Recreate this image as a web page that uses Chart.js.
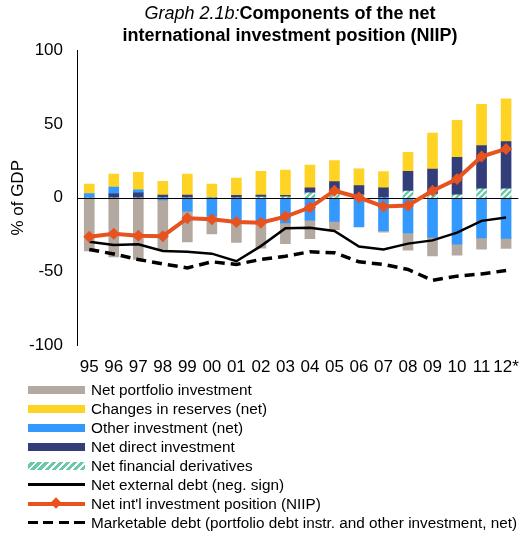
<!DOCTYPE html>
<html>
<head>
<meta charset="utf-8">
<script src="https://cdn.jsdelivr.net/npm/chart.js@4.4.0/dist/chart.umd.min.js"></script>
<style>
body { margin: 0; background: #fff; font-family: "Liberation Sans", Arial, sans-serif; }
#wrap { position: relative; width: 531px; height: 536px; overflow: hidden; }
#title { position: absolute; left: 50px; width: 480px; top: 2px; text-align: center; font-size: 18px; line-height: 22px; font-weight: bold; color: #000; }
#title i { font-weight: normal; }
#chart { position: absolute; left: 0; top: 0; }
#legend { position: absolute; left: 28px; top: 380px; font-size: 15.3px; color: #000; }
.row { height: 19px; display: flex; align-items: center; white-space: nowrap; }
.sw { width: 57px; height: 19px; position: relative; margin-right: 6px; flex: none; }
.sw .bar { position: absolute; left: 0; right: 0; top: 6px; height: 8px; }
.sw .ln { position: absolute; left: 0; right: 0; top: 8px; height: 3px; background: #000; }
.sw .dash { position: absolute; left: 0; right: 0; top: 8px; height: 3px; background: repeating-linear-gradient(90deg, #000 0 10px, transparent 10px 15.5px); }
.sw .niip { position: absolute; left: 0; right: 0; top: 8px; height: 4px; background: #e8521e; }
.sw .dia { position: absolute; left: 24px; top: 5px; width: 8px; height: 8px; background: #e8521e; transform: rotate(45deg); }
</style>
</head>
<body>
<div id="wrap">
  <canvas id="chart" width="531" height="394"></canvas>
  <div id="title"><i>Graph 2.1b:</i>Components of the net<br>international investment position (NIIP)</div>
  <div id="legend">
    <div class="row"><div class="sw"><div class="bar" style="background:#b3a9a0"></div></div>Net portfolio investment</div>
    <div class="row"><div class="sw"><div class="bar" style="background:#ffd324"></div></div>Changes in reserves (net)</div>
    <div class="row"><div class="sw"><div class="bar" style="background:#3399ff"></div></div>Other investment (net)</div>
    <div class="row"><div class="sw"><div class="bar" style="background:#333d7a"></div></div>Net direct investment</div>
    <div class="row"><div class="sw"><div class="bar" style="background:repeating-linear-gradient(135deg, #fff 0 2px, #6cc9a8 2px 5px)"></div></div>Net financial derivatives</div>
    <div class="row"><div class="sw"><div class="ln"></div></div>Net external debt (neg. sign)</div>
    <div class="row"><div class="sw"><div class="niip"></div><div class="dia"></div></div>Net int'l investment position (NIIP)</div>
    <div class="row"><div class="sw"><div class="dash"></div></div>Marketable debt (portfolio debt instr. and other investment, net)</div>
  </div>
</div>
<script>
// categories and series (% of GDP)
const years = ["95", "96", "97", "98", "99", "00", "01", "02", "03", "04", "05", "06", "07", "08", "09", "10", "11", "12*"];
const portfolio = [-36, -40, -41.7, -34, -20.9, -12, -14.3, -17, -14, -12.5, -5.7, 0, -1.1, -11.6, -12.5, -7.5, -7.5, -6.8];
const reserves = [6.4, 8.9, 11.8, 9.3, 14.3, 9.3, 11.8, 16, 17.1, 15.4, 14.1, 11.3, 10.9, 12.9, 24.3, 25, 27.9, 29];
const otherInv = [2.9, 4.5, 2, -1.5, -9, -12.5, -15.9, -17, -17, -15.2, -15.9, -19.7, -22.2, -23.8, -26.8, -31.3, -27.2, -27.4];
const directInv = [0, 2.7, 3.4, 1.8, 1.8, 0, 1.6, 1.4, 1, 3.4, 6, 6.2, 6.8, 13.4, 17, 25.4, 29.4, 32];
const derivatives = [0, 0, 0, 0, 0, 0, 0, 0.5, 0.7, 3.4, 5, 2, 0, 4.5, 2.5, 2, 6, 6];
const extDebt = [-29.7, -32, -31.5, -36, -36.5, -37.8, -42.9, -32.7, -20.6, -20.2, -22.4, -33, -35, -31, -28.8, -23.6, -15.6, -13.4];
const niip = [-26.3, -24.3, -25.6, -26, -13.8, -14.5, -16.3, -16.8, -12.7, -6.6, 4.8, 0.2, -5.9, -5.2, 4.8, 12.7, 27.9, 33.1];
const marketable = [-35, -38, -41.7, -44.7, -47.4, -43.3, -45.1, -41.7, -39.5, -36.5, -37.2, -43.3, -45.1, -48.5, -55.8, -53, -51.5, -49.2];
const yTicks = [-100, -50, 0, 50, 100];

function stripes() {
    const c = document.createElement("canvas");
    c.width = 6; c.height = 6;
    const g = c.getContext("2d");
    g.fillStyle = "#fff";
    g.fillRect(0, 0, 6, 6);
    g.strokeStyle = "#6cc9a8";
    g.lineWidth = 2.5;
    g.beginPath();
    g.moveTo(0, 6); g.lineTo(6, 0);
    g.moveTo(-3, 3); g.lineTo(3, -3);
    g.moveTo(3, 9); g.lineTo(9, 3);
    g.stroke();
    return g.createPattern(c, "repeat");
}

// zero line goes over the bars but under the lines
const zeroLine = {
    id: "zeroLine",
    beforeDatasetsDraw(chart) { chart.$zeroDone = false; },
    beforeDatasetDraw(chart, args) {
        if (chart.$zeroDone || args.meta.type !== "line") return;
        const ctx = chart.ctx;
        const y = Math.round(chart.scales.y.getPixelForValue(0)) + 0.5;
        ctx.save();
        ctx.strokeStyle = "#000";
        ctx.lineWidth = 1;
        ctx.beginPath();
        ctx.moveTo(chart.chartArea.left, y);
        ctx.lineTo(chart.chartArea.right, y);
        ctx.stroke();
        ctx.restore();
        chart.$zeroDone = true;
    }
};

function bar(label, data, color) {
    return { type: "bar", label: label, data: data, backgroundColor: color, borderWidth: 0, barThickness: 10, stack: "bars", order: 3 };
}

new Chart(document.getElementById("chart"), {
    data: {
        labels: years,
        datasets: [
            bar("Net financial derivatives", derivatives, stripes()),
            bar("Net direct investment", directInv, "#333d7a"),
            bar("Other investment (net)", otherInv, "#3399ff"),
            bar("Changes in reserves (net)", reserves, "#ffd324"),
            bar("Net portfolio investment", portfolio, "#b3a9a0"),
            {
                type: "line", label: "Net external debt (neg. sign)", data: extDebt, stack: "l1", order: 2,
                borderColor: "#000", borderWidth: 2.5, pointRadius: 0, tension: 0
            },
            {
                type: "line", label: "Net int'l investment position (NIIP)", data: niip, stack: "l2", order: 0,
                borderColor: "#e8521e", borderWidth: 4, pointStyle: "rectRot", pointRadius: 6,
                pointBackgroundColor: "#e8521e", pointBorderWidth: 0, tension: 0
            },
            {
                type: "line", label: "Marketable debt (portfolio debt instr. and other investment, net)", data: marketable, stack: "l3", order: 1,
                borderColor: "#000", borderWidth: 3.5, borderDash: [10, 6], pointRadius: 0, tension: 0
            }
        ]
    },
    options: {
        responsive: false,
        animation: false,
        layout: { padding: { top: 50, right: 4, bottom: 4, left: 0 } },
        plugins: { legend: { display: false }, tooltip: { enabled: false } },
        scales: {
            x: {
                stacked: true,
                grid: { display: false, drawTicks: false },
                border: { display: false },
                ticks: { color: "#000", font: { family: "Liberation Sans", size: 17 }, padding: 12, autoSkip: false, maxRotation: 0, minRotation: 0 }
            },
            y: {
                stacked: true,
                min: -100, max: 100,
                afterFit: s => { s.width = 77; },
                afterBuildTicks: s => { s.ticks = yTicks.map(v => ({ value: v })); },
                grid: { display: false, drawTicks: false },
                border: { display: true, color: "#000", width: 1 },
                ticks: { color: "#000", font: { family: "Liberation Sans", size: 17 }, padding: 14 },
                title: { display: true, text: "% of GDP", color: "#000", font: { family: "Liberation Sans", size: 17 }, padding: { top: 8, bottom: 0 } }
            }
        }
    },
    plugins: [zeroLine]
});
</script>
</body>
</html>
